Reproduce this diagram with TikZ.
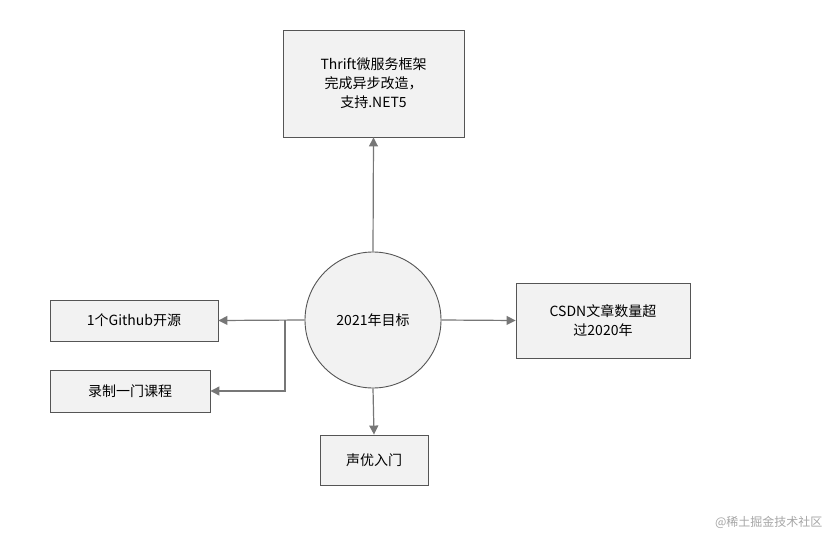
\documentclass[tikz,border=0pt]{standalone}
\usepackage{fontspec}
\setmainfont{Noto Sans CJK SC}
\usetikzlibrary{arrows.meta}
\definecolor{boxfill}{HTML}{F2F2F2}
\definecolor{boxline}{HTML}{555555}
\definecolor{arr}{HTML}{777777}
\tikzset{
  bx/.style={draw=boxline,fill=boxfill,line width=0.9bp,font=\fontsize{14bp}{19bp}\selectfont,align=center,inner sep=0pt},
  con/.style={draw=arr,line width=1.2bp,-{Triangle[length=9bp,width=9bp]}}
}
\begin{document}
\begin{tikzpicture}[x=1bp,y=-1bp]
\useasboundingbox (0,0) rectangle (831,537);
\fill[white] (0,0) rectangle (831,537);
\node[circle,draw=boxline,fill=boxfill,line width=0.9bp,minimum size=136bp,inner sep=0pt,font=\fontsize{14bp}{19bp}\selectfont] (c) at (373,320) {2021年目标};
\node[bx,minimum width=181bp,minimum height=107bp] (t) at (373.5,83.5) {Thrift微服务框架\\完成异步改造，\\支持.NET5};
\node[bx,minimum width=174bp,minimum height=75bp] (r) at (603,320.5) {CSDN文章数量超\\过2020年};
\node[bx,minimum width=168bp,minimum height=41bp] (l1) at (134,320.5) {1个Github开源};
\node[bx,minimum width=160bp,minimum height=42bp] (l2) at (130,391) {录制一门课程};
\node[bx,minimum width=108bp,minimum height=50bp] (b) at (374,460) {声优入门};
\coordinate (j) at (285,320);
\draw[con] (c.north) -- (t.south);
\draw[con] (c.east) -- (r.west);
\draw[con] (c.west) -- (l1.east);
\draw[con] (j) |- (l2.east);
\draw[con] (c.south) -- (b.north);
\node[text=gray!70,font=\fontsize{12bp}{14bp}\selectfont,anchor=east] (w) at (826,522) {@稀土掘金技术社区};
\end{tikzpicture}
\end{document}
